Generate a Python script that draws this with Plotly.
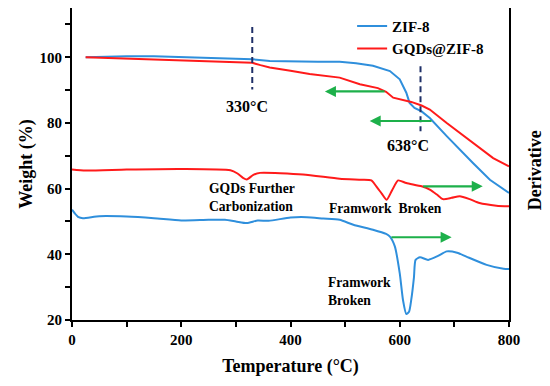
import plotly.graph_objects as go

# ---- data ----
zif8_tga_T = [25, 60, 100, 150, 200, 250, 300, 330, 362, 400, 450, 490, 520, 551, 582, 600, 612, 618, 627, 640, 655, 686, 710, 734, 765, 800]
zif8_tga_W = [100, 100.2, 100.3, 100.3, 100.1, 99.9, 99.6, 99.4, 98.9, 98.7, 98.6, 98.6, 98.2, 97.4, 95.8, 93.3, 89.2, 86.1, 84.6, 83.5, 81.5, 76.0, 71.8, 67.8, 62.7, 58.7]

gqd_tga_T = [25, 100, 200, 300, 330, 345, 362, 400, 435, 490, 527, 560, 575, 588, 605, 621, 640, 655, 686, 710, 734, 771, 800]
gqd_tga_W = [100, 99.6, 99.0, 98.5, 98.3, 97.6, 96.9, 95.9, 94.9, 93.8, 91.8, 90.6, 89.5, 87.7, 87.0, 86.4, 85.3, 84.1, 80.0, 77.0, 73.9, 69.3, 66.8]

gqd_der_T = [0, 25, 100, 200, 290, 303, 313, 320, 332, 344, 423, 490, 530, 548, 557, 567, 576, 586, 597, 612, 640, 655, 668, 679, 695, 710, 728, 746, 777, 800]
gqd_der_V = [65.8, 65.5, 65.8, 66.0, 65.6, 64.6, 63.3, 62.8, 64.2, 64.8, 64.3, 63.0, 62.7, 62.5, 60.7, 58.5, 56.6, 59.5, 62.5, 61.7, 60.7, 59.7, 58.2, 56.8, 57.2, 57.7, 56.8, 55.6, 54.8, 54.6]

zif8_der_T = [0, 5, 12, 20, 50, 100, 150, 200, 250, 280, 300, 320, 340, 360, 400, 430, 460, 490, 515, 551, 575, 582, 591, 600, 606, 612, 617, 621, 626, 629, 637, 652, 670, 686, 705, 722, 759, 790, 800]
zif8_der_V = [53.6, 52.5, 51.3, 51.0, 51.6, 51.5, 51.0, 50.3, 50.5, 50.5, 50.0, 49.5, 50.3, 50.2, 51.2, 51.3, 50.9, 50.5, 49.0, 47.5, 46.2, 45.4, 42.4, 34.2, 26.0, 21.8, 22.5, 26.1, 33.0, 38.3, 39.1, 38.3, 39.5, 40.9, 40.5, 39.3, 36.8, 35.6, 35.5]

marker_T = [330, 638]
marker_lines = [(109.2, 90.2), (97.3, 77.5)]

# green arrows: (tail_x, head_x, y)
arrows = [(575, 463, 89.6), (661, 545, 80.6), (640, 752, 60.7), (582, 695, 45.2)]

BLUE = "#2f8fdc"
RED = "#ff1a1a"
GREEN = "#1db04a"
NAVY = "#1f3068"
FONT = "Liberation Serif"

fig = go.Figure()
fig.add_trace(go.Scatter(x=zif8_tga_T, y=zif8_tga_W, mode="lines", name="ZIF-8",
                         line=dict(color=BLUE, width=2)))
fig.add_trace(go.Scatter(x=gqd_tga_T, y=gqd_tga_W, mode="lines", name="GQDs@ZIF-8",
                         line=dict(color=RED, width=2)))
fig.add_trace(go.Scatter(x=gqd_der_T, y=gqd_der_V, mode="lines", showlegend=False,
                         line=dict(color=RED, width=2, shape="spline", smoothing=0.6)))
fig.add_trace(go.Scatter(x=zif8_der_T, y=zif8_der_V, mode="lines", showlegend=False,
                         line=dict(color=BLUE, width=2, shape="spline", smoothing=0.6)))

for t, (y0, y1) in zip(marker_T, marker_lines):
    fig.add_trace(go.Scatter(x=[t, t], y=[y0, y1], mode="lines", showlegend=False,
                             line=dict(color=NAVY, width=2, dash="6px,4px")))

annotations = []
for tail, head, y in arrows:
    annotations.append(dict(x=head, y=y, ax=tail, ay=y, xref="x", yref="y", axref="x", ayref="y",
                            text="", showarrow=True, arrowhead=2, arrowsize=1, arrowwidth=2.2,
                            arrowcolor=GREEN))

bold = lambda s: dict(family=FONT, size=s, color="black", weight="bold")
annotations += [
    dict(x=320, y=85.1, text="330°C", showarrow=False, font=bold(16), xref="x", yref="y"),
    dict(x=615, y=73.2, text="638°C", showarrow=False, font=bold(16), xref="x", yref="y"),
    dict(x=248, y=57.4, text="GQDs Further<br>Carbonization", showarrow=False, align="left", xanchor="left",
         yanchor="middle", font=bold(13.6), xref="x", yref="y"),
    dict(x=467, y=53.9, text="Framwork  Broken", showarrow=False, align="left", xanchor="left",
         font=bold(13.6), xref="x", yref="y"),
    dict(x=465, y=28.7, text="Framwork<br>Broken", showarrow=False, align="left", xanchor="left",
         yanchor="middle", font=bold(13.6), xref="x", yref="y"),
    dict(x=1.0595, y=0.48, xref="paper", yref="paper", xanchor="center", yanchor="middle",
         text="Derivative", textangle=-90, showarrow=False, font=bold(18)),
]

fig.update_layout(
    width=542, height=378,
    margin=dict(l=64, r=41, t=0, b=66, autoexpand=False),
    paper_bgcolor="white", plot_bgcolor="white",
    font=dict(family=FONT, size=15, color="black", weight="bold"),
    annotations=annotations,
    legend=dict(x=0.641, y=0.994, xanchor="left", yanchor="top", bgcolor="rgba(0,0,0,0)",
                font=bold(15), itemwidth=30, tracegroupgap=0),
    xaxis=dict(range=[0, 800], dtick=200, tick0=0, showgrid=False, zeroline=False, automargin=False,
               showline=True, linecolor="black", linewidth=2, mirror=True,
               ticks="outside", ticklen=5, tickwidth=2, tickcolor="black",
               minor=dict(dtick=100, ticks="outside", ticklen=5, tickwidth=2, tickcolor="black"),
               title=dict(text="Temperature (°C)", font=bold(18), standoff=12),
               tickfont=bold(15)),
    yaxis=dict(range=[20, 115], dtick=20, tick0=20, showgrid=False, zeroline=False, automargin=False,
               showline=True, linecolor="black", linewidth=2, mirror=True,
               ticks="outside", ticklen=5, tickwidth=2, tickcolor="black",
               minor=dict(dtick=10, ticks="outside", ticklen=5, tickwidth=2, tickcolor="black"),
               title=dict(text="Weight (%)", font=bold(18), standoff=2),
               tickfont=bold(15)),
)

fig.write_html("out.html")
